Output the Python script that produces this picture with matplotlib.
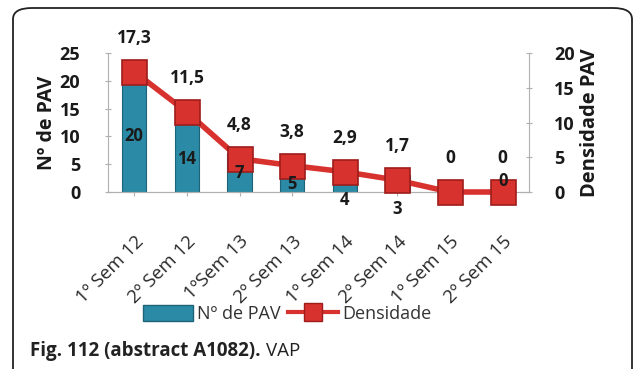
import numpy as np
import matplotlib
matplotlib.use("Agg")
import matplotlib.pyplot as plt
from matplotlib.patches import FancyBboxPatch, Patch
from matplotlib.lines import Line2D

categories = ["1º Sem 12", "2º Sem 12", "1ºSem 13", "2º Sem 13",
              "1º Sem 14", "2º Sem 14", "1º Sem 15", "2º Sem 15"]
n_pav = [20, 14, 7, 5, 4, 3, 0, 0]
densidade = [17.3, 11.5, 4.8, 3.8, 2.9, 1.7, 0, 0]

plt.rcParams["font.family"] = ["Open Sans", "DejaVu Sans"]

BAR = "#2b8aa6"
RED = "#d8322f"
TXT = "#1a1a1a"

fig = plt.figure(figsize=(6.35, 3.69), dpi=100)

# outer rounded frame (bottom edge falls off the picture)
frame = FancyBboxPatch((13 / 635, -0.05), 619 / 635, 1 - 8 / 369 + 0.05,
                       boxstyle="round,pad=0,rounding_size=0.03",
                       transform=fig.transFigure, fill=False,
                       edgecolor="#222222", linewidth=1.3)
fig.patches.append(frame)

ax = fig.add_axes([108 / 635, 1 - 192 / 369, 421 / 635, 139 / 369])
ax2 = ax.twinx()

x = np.arange(len(categories))
ax.bar(x, n_pav, width=0.46, color=BAR, edgecolor="#1d6479", linewidth=0.8, zorder=2)
ax.set_xlim(-0.5, len(categories) - 0.5)
ax.set_ylim(0, 25)
ax.set_yticks([0, 5, 10, 15, 20, 25])
ax2.set_ylim(0, 20)
ax2.set_yticks([0, 5, 10, 15, 20])

ax2.plot(x, densidade, color=RED, linewidth=4, marker="s", markersize=18,
         markerfacecolor=RED, markeredgecolor="#9e1d1b", markeredgewidth=1.2,
         zorder=3, clip_on=False)

for a, pad in ((ax, 18), (ax2, 16)):
    a.spines["top"].set_visible(False)
    for side in ("left", "right", "bottom"):
        a.spines[side].set_color("#b0b0b0")
    a.tick_params(axis="y", colors="#b0b0b0", labelcolor=TXT, labelsize=13,
                  length=4, direction="inout", pad=pad)
    for lab in a.get_yticklabels():
        lab.set_fontweight("bold")
ax.spines["right"].set_visible(False)
ax2.spines["left"].set_visible(False)

ax.set_xticks(x)
ax.set_xticklabels(categories, rotation=45, ha="right", rotation_mode="anchor",
                   fontsize=13.5, color="#2a2a2a")
ax.tick_params(axis="x", colors="#b0b0b0", labelcolor="#2a2a2a", length=3, pad=26)

ax.set_ylabel("Nº de PAV", fontsize=14, fontweight="bold", color=TXT, labelpad=2)
ax2.set_ylabel("Densidade PAV", fontsize=14.5, fontweight="bold", color=TXT,
               rotation=90, labelpad=4)

# data labels (drawn on ax2 so they sit above the markers)
bar_offsets = [0, -4, 0, -4, -14, -18, 0, 8]
for xi, v, off in zip(x, n_pav, bar_offsets):
    z = 2 if (v == 0 and off == 0) else 5
    ax2.annotate(str(v), (xi, v / 2), xycoords=ax.transData, xytext=(0, off),
                 textcoords="offset points", ha="center", va="center",
                 fontsize=12, fontweight="bold", color=TXT, zorder=z)
for xi, v in zip(x, densidade):
    ax2.annotate(f"{v:g}".replace(".", ","), (xi, v), xytext=(0, 18),
                 textcoords="offset points", ha="center", va="bottom",
                 fontsize=12.5, fontweight="bold", color=TXT, zorder=5)

handles = [Patch(facecolor=BAR, edgecolor="#1d6479"),
           Line2D([0], [0], color=RED, linewidth=3, marker="s", markersize=13,
                  markerfacecolor=RED, markeredgecolor="#9e1d1b")]
fig.legend(handles, ["Nº de PAV", "Densidade"], loc="center",
           bbox_to_anchor=(287 / 635, 1 - 314 / 369), ncol=2, frameon=False,
           fontsize=13, handlelength=2.8, handleheight=1.0, columnspacing=0.4,
           handletextpad=0.2, labelcolor="#333333")

cap = fig.text(30 / 635, 1 - 351 / 369, "Fig. 112 (abstract A1082).",
               fontsize=13.5, fontweight="bold", color="#222222",
               va="center", ha="left")
fig.canvas.draw()
bb = cap.get_window_extent()
fig.text(bb.x1 / fig.bbox.width + 5 / 635, 1 - 351 / 369, "VAP", fontsize=13.5,
         color="#222222", va="center", ha="left")

fig.savefig("out.png", dpi=100)
